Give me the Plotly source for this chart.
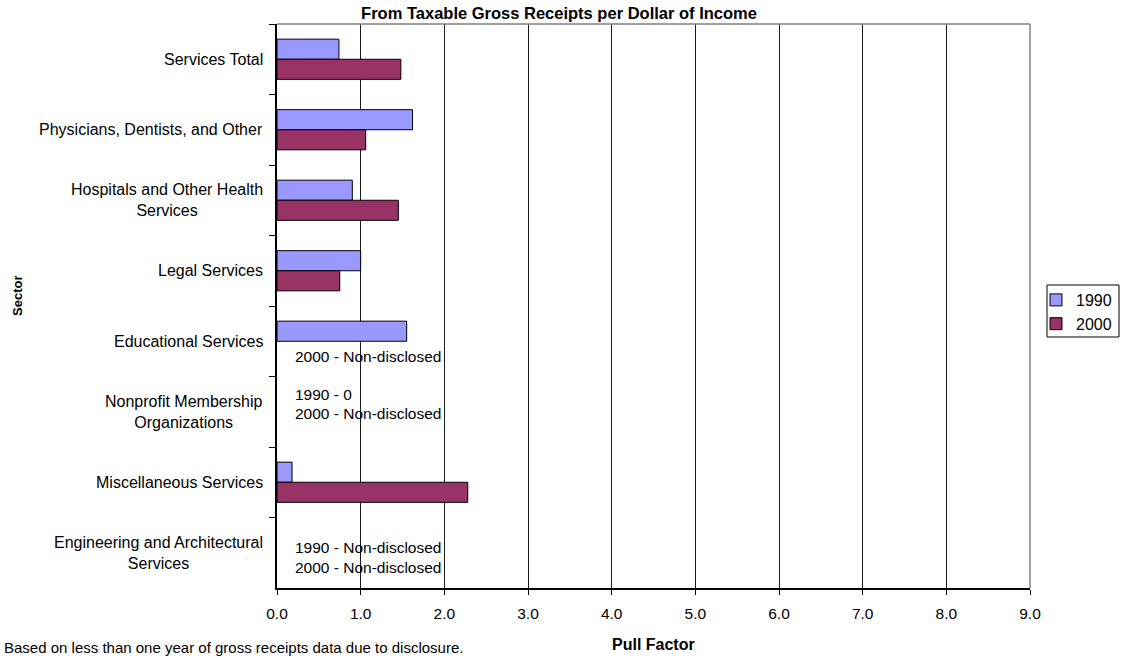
import plotly.graph_objects as go

categories = [
    "Services Total",
    "Physicians, Dentists, and Other",
    "Hospitals and Other Health Services",
    "Legal Services",
    "Educational Services",
    "Nonprofit Membership Organizations",
    "Miscellaneous Services",
    "Engineering and Architectural Services",
]
category_labels = [
    "Services Total",
    "Physicians, Dentists, and Other",
    "Hospitals and Other Health<br>Services",
    "Legal Services",
    "Educational Services",
    "Nonprofit Membership<br>Organizations",
    "Miscellaneous Services",
    "Engineering and Architectural<br>Services",
]
values_1990 = [0.74, 1.62, 0.90, 1.00, 1.55, None, 0.18, None]
values_2000 = [1.48, 1.06, 1.45, 0.75, None, None, 2.28, None]
series_names = ["1990", "2000"]
note_texts = [
    "2000 - Non-disclosed",
    "1990 - 0",
    "2000 - Non-disclosed",
    "1990 - Non-disclosed",
    "2000 - Non-disclosed",
]
x_ticks = [0, 1, 2, 3, 4, 5, 6, 7, 8, 9]

W, H = 1122, 658
L, R, T, B = 277, 92, 24, 70
PW, PH = W - L - R, H - T - B


def px_x(x):
    return (x - L) / PW


def px_y(y):
    return (H - B - y) / PH


FONT = "Arial, 'Liberation Sans', sans-serif"

fig = go.Figure()
fig.add_trace(go.Bar(
    y=categories, x=values_1990, name=series_names[0], orientation="h",
    marker=dict(color="#9999FF", line=dict(color="#000000", width=1)),
))
fig.add_trace(go.Bar(
    y=categories, x=values_2000, name=series_names[1], orientation="h",
    marker=dict(color="#993366", line=dict(color="#000000", width=1)),
))

annotations = []
# category labels (centered multi-line, right-anchored)
for cat, lab in zip(categories, category_labels):
    annotations.append(dict(
        x=px_x(265), xref="paper", y=cat, yref="y", text=lab,
        xanchor="right", yanchor="middle", align="center", showarrow=False,
        font=dict(family=FONT, size=16, color="#000000"),
    ))
# non-disclosed notes
note_y = [356, 394, 414, 547, 567]
for txt, yy in zip(note_texts, note_y):
    annotations.append(dict(
        x=px_x(293), xref="paper", y=px_y(yy), yref="paper", text=txt,
        xanchor="left", yanchor="middle", showarrow=False,
        font=dict(family=FONT, size=15.5, color="#000000"),
    ))
# axis titles
annotations.append(dict(
    x=px_x(653.5), xref="paper", y=px_y(645), yref="paper", text="<b>Pull Factor</b>",
    xanchor="center", yanchor="middle", showarrow=False,
    font=dict(family=FONT, size=16, color="#000000"),
))
annotations.append(dict(
    x=px_x(17), xref="paper", y=px_y(296), yref="paper", text="<b>Sector</b>",
    xanchor="center", yanchor="middle", showarrow=False, textangle=-90,
    font=dict(family=FONT, size=13, color="#000000"),
))
annotations.append(dict(
    x=px_x(2), xref="paper", y=px_y(658), yref="paper",
    text="Based on less than one year of gross receipts data due to disclosure.",
    xanchor="left", yanchor="bottom", showarrow=False,
    font=dict(family=FONT, size=15, color="#000000"),
))

shapes = [
    # top and right gray border of plot area
    dict(type="line", xref="paper", yref="paper", x0=0, x1=1, y0=1, y1=1,
         line=dict(color="#808080", width=1.5)),
    dict(type="line", xref="paper", yref="paper", x0=1, x1=1, y0=0, y1=1,
         line=dict(color="#808080", width=1.5)),
    # legend box
    dict(type="rect", xref="paper", yref="paper",
         x0=px_x(1047), x1=px_x(1119), y0=px_y(285), y1=px_y(337),
         line=dict(color="#000000", width=1)),
]

fig.update_layout(
    width=W, height=H,
    margin=dict(l=L, r=R, t=T, b=B, pad=0, autoexpand=False),
    paper_bgcolor="#FFFFFF", plot_bgcolor="#FFFFFF",
    barmode="group", bargap=0.43, bargroupgap=0,
    font=dict(family=FONT, size=16, color="#000000"),
    title=dict(
        text="<b>From Taxable Gross Receipts per Dollar of Income</b>",
        x=559 / W, xref="container", xanchor="center",
        y=1 - 13 / H, yref="container", yanchor="middle",
        font=dict(family=FONT, size=16.5, color="#000000"),
    ),
    xaxis=dict(
        range=[0, 9], tickvals=x_ticks, tickformat=".1f",
        showgrid=True, gridcolor="#1a1a1a", gridwidth=1,
        showline=True, linecolor="#000000", linewidth=1.5,
        ticks="outside", ticklen=5, tickcolor="#000000",
        ticklabelstandoff=6,
        tickfont=dict(family=FONT, size=15.5, color="#000000"),
        zeroline=False, fixedrange=True, automargin=False,
    ),
    yaxis=dict(
        categoryorder="array", categoryarray=categories,
        autorange="reversed",
        showticklabels=False, tickson="boundaries",
        ticks="outside", ticklen=6, tickcolor="#000000",
        showline=True, linecolor="#000000", linewidth=1.5,
        showgrid=False, zeroline=False, fixedrange=True, automargin=False,
    ),
    legend=dict(
        x=px_x(1036), xanchor="left", y=px_y(312), yanchor="middle",
        bgcolor="rgba(0,0,0,0)", borderwidth=0,
        font=dict(family=FONT, size=16, color="#000000"),
        tracegroupgap=0, itemwidth=30,
    ),
    showlegend=True,
    annotations=annotations,
    shapes=shapes,
)

fig.write_html("out.html")
